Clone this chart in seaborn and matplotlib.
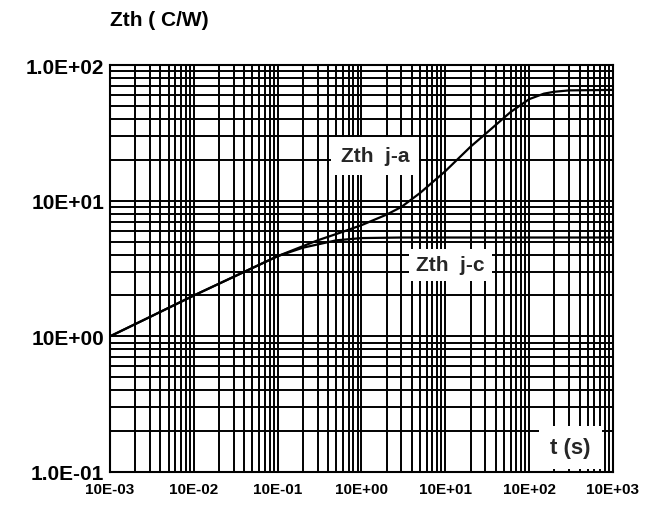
import numpy as np
import pandas as pd
import matplotlib
matplotlib.use("Agg")
import matplotlib.pyplot as plt
import matplotlib.ticker as mticker
import seaborn as sns

# Data
t_ja = [1e-3, 3e-3, 1e-2, 3e-2, 0.1, 0.3, 0.6, 1, 2, 3, 5, 10, 20, 30, 60, 100, 150, 200, 300, 1000]
z_ja = [1.0, 1.39, 2.0, 2.75, 3.9, 5.1, 5.9, 6.6, 7.9, 9.0, 11.4, 16.5, 25, 31, 45, 56, 61.5, 63.5, 65, 65.5]
t_jc = [1e-3, 3e-3, 1e-2, 3e-2, 0.1, 0.2, 0.5, 1, 3, 10, 100, 1000]
z_jc = [1.0, 1.39, 2.0, 2.75, 3.9, 4.5, 5.1, 5.3, 5.35, 5.35, 5.35, 5.35]

x_ticks = [1e-3, 1e-2, 1e-1, 1e0, 1e1, 1e2, 1e3]
x_labels = ["10E-03", "10E-02", "10E-01", "10E+00", "10E+01", "10E+02", "10E+03"]
y_ticks = [1e-1, 1e0, 1e1, 1e2]
y_labels = ["1.0E-01", "10E+00", "10E+01", "1.0E+02"]

df = pd.concat([
    pd.DataFrame({"t": t_ja, "Zth": z_ja, "curve": "Zth j-a"}),
    pd.DataFrame({"t": t_jc, "Zth": z_jc, "curve": "Zth j-c"}),
])

sns.set_style("white")
plt.rcParams["font.family"] = ["Liberation Sans", "DejaVu Sans"]
plt.rcParams["font.weight"] = "bold"

fig = plt.figure(figsize=(6.62, 5.06), dpi=100)
ax = fig.add_axes([110 / 662, 1 - 473 / 506, (613 - 110) / 662, (473 - 66) / 506])

sns.lineplot(data=df, x="t", y="Zth", hue="curve",
             palette={"Zth j-a": "black", "Zth j-c": "black"},
             linewidth=1.6, legend=False, ax=ax, zorder=3, estimator=None, sort=False)

ax.set_xscale("log")
ax.set_yscale("log")
ax.set_xlim(1e-3, 1e3)
ax.set_ylim(1e-1, 1e2)

ax.xaxis.set_major_locator(mticker.FixedLocator(x_ticks))
ax.xaxis.set_minor_locator(mticker.LogLocator(base=10, subs=np.arange(2, 10), numticks=20))
ax.yaxis.set_major_locator(mticker.FixedLocator(y_ticks))
ax.yaxis.set_minor_locator(mticker.LogLocator(base=10, subs=np.arange(2, 10), numticks=20))
ax.xaxis.set_major_formatter(mticker.FixedFormatter(x_labels))
ax.yaxis.set_major_formatter(mticker.FixedFormatter(y_labels))
ax.xaxis.set_minor_formatter(mticker.NullFormatter())
ax.yaxis.set_minor_formatter(mticker.NullFormatter())

ax.grid(True, which="both", color="black", linewidth=1.4)
ax.set_axisbelow(True)
ax.tick_params(axis="both", which="both", length=0)
ax.tick_params(axis="x", labelsize=11, pad=7)
ax.tick_params(axis="y", labelsize=15, pad=4)
for lab in ax.get_xticklabels() + ax.get_yticklabels():
    lab.set_color("black")
    lab.set_fontweight("bold")
for sp in ax.spines.values():
    sp.set_color("black")
    sp.set_linewidth(1.5)

ax.set_xlabel("")
ax.set_ylabel("")

fig.text(110 / 662, 1 - 21 / 506, "Zth ( C/W)", fontsize=15, fontweight="bold",
         ha="left", va="center", color="black")

ax.text(1.45, 21.4, "Zth  j-a", fontsize=15, fontweight="bold", ha="center", va="center",
        bbox=dict(facecolor="white", edgecolor="none", pad=7), zorder=5)
ax.text(11.5, 3.36, "Zth  j-c", fontsize=15, fontweight="bold", ha="center", va="center",
        bbox=dict(facecolor="white", edgecolor="none", pad=5), zorder=5)
ax.text(309, 0.151, "t (s)", fontsize=16, fontweight="bold", ha="center", va="center",
        bbox=dict(facecolor="white", edgecolor="none", pad=8), zorder=5)

fig.savefig("out.png", dpi=100, facecolor="white")
